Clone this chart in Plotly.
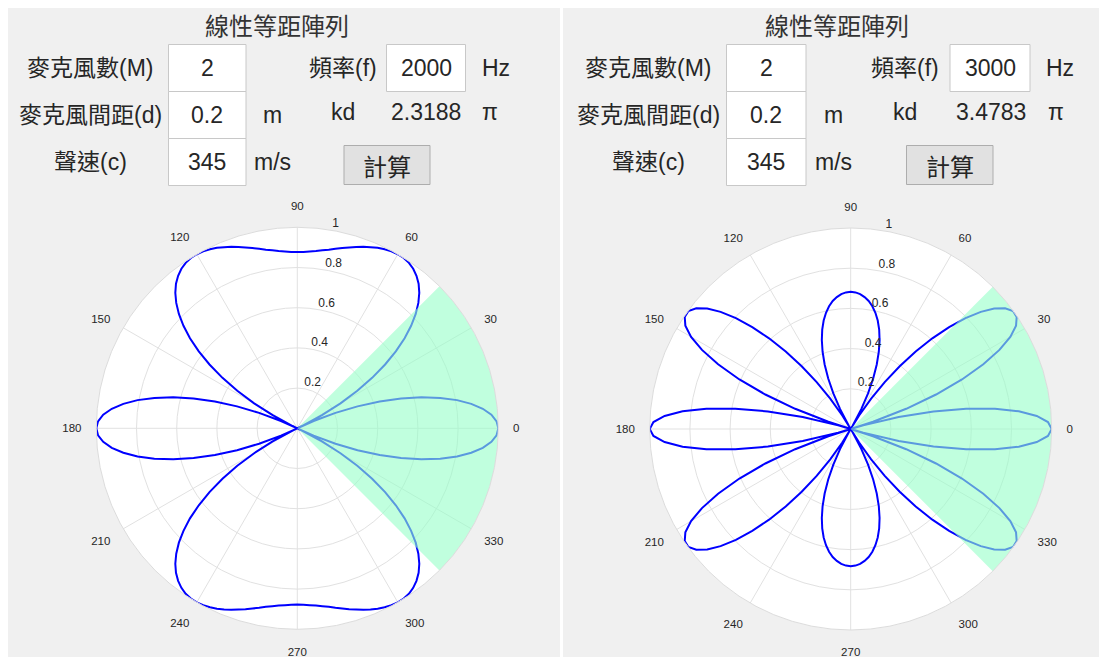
import plotly.graph_objects as go

# The page body has an 8px default margin; the figure is sized so that it
# exactly fills the 1107x657 window next to that margin.
OFF = 8
W, H = 1107 - OFF, 657 - OFF

# ---------------- data ----------------
ang_tick_vals = [0, 30, 60, 90, 120, 150, 180, 210, 240, 270, 300, 330]
ang_tick_text = ["0", "30", "60", "90", "120", "150", "180", "210", "240", "270", "300", "330"]
rad_tick_vals = [0.2, 0.4, 0.6, 0.8, 1.0]
rad_tick_text = ["0.2", "0.4", "0.6", "0.8", "1"]
rad_label_angle = 80

sector_deg = [-45, 45]          # highlighted (green) sector

# left panel: M=2, f=2000 Hz, d=0.2 m, c=345 m/s
theta_step = 2
null_left = [25.55, 154.45, 205.55, 334.45]
r_left = [
    1.000, 0.992, 0.968, 0.928, 0.874, 0.807, 0.727, 0.636, 0.537, 0.431, 0.319, 0.205, 0.089, 0,
    0.026, 0.139, 0.248, 0.352, 0.449, 0.540, 0.622, 0.697, 0.762, 0.819, 0.867, 0.907, 0.939, 0.963,
    0.981, 0.993, 0.999, 1.000, 0.997, 0.991, 0.983, 0.972, 0.961, 0.948, 0.936, 0.924, 0.913, 0.902,
    0.894, 0.887, 0.882, 0.878, 0.877,
    0.878, 0.882, 0.887, 0.894, 0.902, 0.913, 0.924, 0.936, 0.948, 0.961, 0.972, 0.983, 0.991, 0.997,
    1.000, 0.999, 0.993, 0.981, 0.963, 0.939, 0.907, 0.867, 0.819, 0.762, 0.697, 0.622, 0.540, 0.449,
    0.352, 0.248, 0.139, 0.026, 0, 0.089, 0.205, 0.319, 0.431, 0.537, 0.636, 0.727, 0.807, 0.874,
    0.928, 0.968, 0.992, 1.000,
    0.992, 0.968, 0.928, 0.874, 0.807, 0.727, 0.636, 0.537, 0.431, 0.319, 0.205, 0.089, 0,
    0.026, 0.139, 0.248, 0.352, 0.449, 0.540, 0.622, 0.697, 0.762, 0.819, 0.867, 0.907, 0.939, 0.963,
    0.981, 0.993, 0.999, 1.000, 0.997, 0.991, 0.983, 0.972, 0.961, 0.948, 0.936, 0.924, 0.913, 0.902,
    0.894, 0.887, 0.882, 0.878, 0.877,
    0.878, 0.882, 0.887, 0.894, 0.902, 0.913, 0.924, 0.936, 0.948, 0.961, 0.972, 0.983, 0.991, 0.997,
    1.000, 0.999, 0.993, 0.981, 0.963, 0.939, 0.907, 0.867, 0.819, 0.762, 0.697, 0.622, 0.540, 0.449,
    0.352, 0.248, 0.139, 0.026, 0, 0.089, 0.205, 0.319, 0.431, 0.537, 0.636, 0.727, 0.807, 0.874,
    0.928, 0.968, 0.992, 1.000,
]

# right panel: M=2, f=3000 Hz, d=0.2 m, c=345 m/s
null_right = [16.71, 59.6, 120.4, 163.29, 196.71, 239.6, 300.4, 343.29]
r_right = [
    1.000, 0.982, 0.928, 0.841, 0.725, 0.583, 0.421, 0.246, 0.065, 0,
    0.117, 0.294, 0.458, 0.606, 0.734, 0.838, 0.917, 0.970, 0.996, 0.998, 0.975, 0.932, 0.871, 0.794,
    0.705, 0.607, 0.503, 0.396, 0.288, 0.182, 0.079, 0,
    0.019, 0.112, 0.197, 0.275, 0.346, 0.409, 0.465, 0.514, 0.556, 0.591, 0.620, 0.643, 0.660, 0.673,
    0.680, 0.683,
    0.680, 0.673, 0.660, 0.643, 0.620, 0.591, 0.556, 0.514, 0.465, 0.409, 0.346, 0.275, 0.197, 0.112,
    0.019, 0, 0.079, 0.182, 0.288, 0.396, 0.503, 0.607, 0.705, 0.794, 0.871, 0.932, 0.975, 0.998,
    0.996, 0.970, 0.917, 0.838, 0.734, 0.606, 0.458, 0.294, 0.117, 0, 0.065, 0.246, 0.421, 0.583,
    0.725, 0.841, 0.928, 0.982, 1.000,
    0.982, 0.928, 0.841, 0.725, 0.583, 0.421, 0.246, 0.065, 0,
    0.117, 0.294, 0.458, 0.606, 0.734, 0.838, 0.917, 0.970, 0.996, 0.998, 0.975, 0.932, 0.871, 0.794,
    0.705, 0.607, 0.503, 0.396, 0.288, 0.182, 0.079, 0,
    0.019, 0.112, 0.197, 0.275, 0.346, 0.409, 0.465, 0.514, 0.556, 0.591, 0.620, 0.643, 0.660, 0.673,
    0.680, 0.683,
    0.680, 0.673, 0.660, 0.643, 0.620, 0.591, 0.556, 0.514, 0.465, 0.409, 0.346, 0.275, 0.197, 0.112,
    0.019, 0, 0.079, 0.182, 0.288, 0.396, 0.503, 0.607, 0.705, 0.794, 0.871, 0.932, 0.975, 0.998,
    0.996, 0.970, 0.917, 0.838, 0.734, 0.606, 0.458, 0.294, 0.117, 0, 0.065, 0.246, 0.421, 0.583,
    0.725, 0.841, 0.928, 0.982, 1.000,
]

theta_left = sorted(list(range(0, 361, theta_step)) + null_left)
theta_right = sorted(list(range(0, 361, theta_step)) + null_right)
assert len(theta_left) == len(r_left)
assert len(theta_right) == len(r_right)

# GUI header texts
panel_title = "線性等距陣列"
label_M, label_d, label_c, label_f = "麥克風數(M)", "麥克風間距(d)", "聲速(c)", "頻率(f)"
left_vals = {"M": "2", "d": "0.2", "c": "345", "f": "2000", "kd": "2.3188"}
right_vals = {"M": "2", "d": "0.2", "c": "345", "f": "3000", "kd": "3.4783"}
btn_text = "計算"

# ---------------- figure ----------------
FONT_MIX = "Liberation Sans, Arial, Noto Sans CJK TC"
FONT_CJK = "Noto Sans CJK TC, Liberation Sans"
TXT = "#262626"


def X(x):
    return (x - OFF) / W


def Y(y):
    return 1 - (y - OFF) / H


fig = go.Figure()

sec_theta = [0] + list(range(sector_deg[0], sector_deg[1] + 1)) + [0]
sec_r = [0] + [1] * (sector_deg[1] - sector_deg[0] + 1) + [0]

for th, r, pol in [(theta_left, r_left, "polar"), (theta_right, r_right, "polar2")]:
    fig.add_trace(go.Scatterpolar(r=r, theta=th, mode="lines", subplot=pol,
                                  line=dict(color="#0000ff", width=2),
                                  showlegend=False, hoverinfo="skip"))
    fig.add_trace(go.Scatterpolar(r=sec_r, theta=sec_theta, mode="lines", subplot=pol,
                                  fill="toself", fillcolor="rgba(150,255,200,0.6)",
                                  line=dict(width=0, color="rgba(0,0,0,0)"),
                                  showlegend=False, hoverinfo="skip"))
    fig.add_trace(go.Scatterpolar(r=rad_tick_vals, theta=[rad_label_angle] * len(rad_tick_vals),
                                  mode="text", text=rad_tick_text, textposition="top right",
                                  textfont=dict(size=12, color=TXT, family="Liberation Sans, Arial"),
                                  subplot=pol, cliponaxis=False, showlegend=False, hoverinfo="skip"))


def polar_layout(x0, x1, y0, y1):
    return dict(
        domain=dict(x=[X(x0), X(x1)], y=[Y(y1), Y(y0)]),
        bgcolor="white",
        radialaxis=dict(range=[0, 1], tickmode="array", tickvals=rad_tick_vals,
                        showticklabels=False, ticks="", showline=False,
                        gridcolor="#e1e1e1", gridwidth=1),
        angularaxis=dict(direction="counterclockwise", rotation=0,
                         tickmode="array", tickvals=ang_tick_vals, ticktext=ang_tick_text,
                         ticks="outside", ticklen=12, tickcolor="rgba(0,0,0,0)",
                         showline=True, linecolor="#dcdcdc", linewidth=1,
                         gridcolor="#e1e1e1", gridwidth=1,
                         tickfont=dict(size=11.5, color=TXT, family="Liberation Sans, Arial")),
    )


shapes = []
annotations = []


def rect(x0, y0, x1, y1, fill, line=None, layer="above"):
    shapes.append(dict(type="rect", xref="paper", yref="paper",
                       x0=X(x0), x1=X(x1), y0=Y(y1), y1=Y(y0),
                       fillcolor=fill, layer=layer,
                       line=dict(color=line if line else "rgba(0,0,0,0)", width=1 if line else 0)))


def txt(x, y, s, size=23, family=FONT_MIX, color=TXT):
    annotations.append(dict(x=X(x), y=Y(y), xref="paper", yref="paper", text=s,
                            showarrow=False, xanchor="center", yanchor="middle",
                            font=dict(size=size, family=family, color=color)))


# grey panels
rect(OFF - 1, OFF - 1, 560, 658, "#f0f0f0", layer="below")
rect(563, OFF - 1, 1108, 658, "#f0f0f0", layer="below")


def header(vals, p):
    txt(p["title"], 25, panel_title, size=24, family=FONT_CJK, color="#333333")
    txt(p["lab"], 68, label_M)
    txt(p["lab"], 115, label_d)
    txt(p["lab"], 162, label_c)
    bx0, bx1 = p["box"]
    rect(bx0, 44.5, bx1, 91.5, "white", "#c8c8c8")
    rect(bx0, 91.5, bx1, 138.5, "white", "#c8c8c8")
    rect(bx0, 138.5, bx1, 185.5, "white", "#c8c8c8")
    bc = (bx0 + bx1) / 2
    txt(bc, 68, vals["M"])
    txt(bc, 115, vals["d"])
    txt(bc, 162, vals["c"])
    txt(p["unit"], 115, "m")
    txt(p["unit"], 162, "m/s")
    txt(p["flab"], 68, label_f)
    fx0, fx1 = p["fbox"]
    rect(fx0, 44.5, fx1, 91.5, "white", "#c8c8c8")
    txt((fx0 + fx1) / 2, 68, vals["f"])
    txt(p["hz"], 68, "Hz")
    txt(p["flab"], 112, "kd")
    txt(p["kdv"], 112, vals["kd"])
    txt(p["pi"], 112, "π")
    b0, b1 = p["btn"]
    rect(b0, 145.5, b1, 184.5, "#e1e1e1", "#adadad")
    txt((b0 + b1) / 2, 165, btn_text, size=24, family=FONT_CJK)


header(left_vals, dict(title=277, lab=90, box=(168.5, 246), unit=272.5, flab=342.5,
                       fbox=(386.5, 465.5), hz=496, kdv=426, pi=490, btn=(344, 430)))
header(right_vals, dict(title=837, lab=648, box=(726.5, 806), unit=833.5, flab=904.5,
                        fbox=(950, 1030), hz=1059.5, kdv=990.5, pi=1056, btn=(906.5, 993)))

fig.update_layout(
    width=W, height=H, margin=dict(l=0, r=0, t=0, b=0),
    paper_bgcolor="white", plot_bgcolor="white",
    showlegend=False,
    polar=polar_layout(96.3, 498.3, 227.3, 629.3),
    polar2=polar_layout(649.7, 1051.7, 228, 630),
    shapes=shapes, annotations=annotations,
)

fig.write_html("out.html")
